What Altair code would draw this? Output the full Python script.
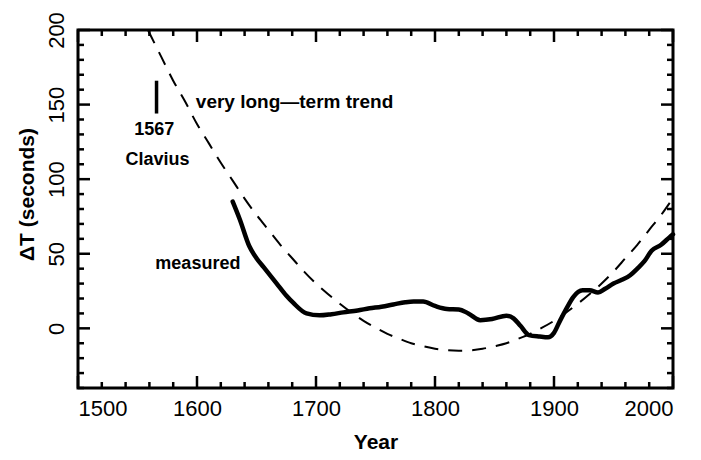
import altair as alt
import pandas as pd

# measured Delta T (solid)
meas_year = [1630, 1636, 1644, 1650, 1656, 1667, 1675, 1681, 1692, 1703, 1713, 1723, 1735,
             1745, 1755, 1765, 1775, 1782, 1790, 1800, 1810, 1820, 1828, 1838, 1848,
             1860, 1866, 1872, 1879, 1888, 1895, 1900, 1905, 1911, 1916, 1924, 1930,
             1937, 1943, 1950, 1957, 1964, 1970, 1976, 1982, 1990, 1997, 2000]
meas_val = [85, 73, 55, 47, 41, 30, 22, 17, 10, 8.7, 9.5, 10.7, 12,
            13.4, 14.5, 16, 17.5, 18, 18, 15, 13, 12.7, 10, 5.5, 6.2,
            8.5, 6.7, 1.5, -4.5, -5.5, -6, -3, 5, 14, 20.8, 25.5, 25.5,
            24, 26.5, 30, 32.5, 35.6, 40, 45, 52, 56, 61, 63]

# very long-term trend (dashed)
trend_year = [1550, 1560, 1570, 1580, 1590, 1600, 1610, 1620, 1630, 1640, 1650, 1660,
              1670, 1680, 1690, 1700, 1710, 1720, 1730, 1740, 1750, 1760, 1770, 1780,
              1790, 1800, 1810, 1820, 1830, 1840, 1850, 1860, 1870, 1880, 1890, 1900,
              1910, 1920, 1930, 1940, 1950, 1960, 1970, 1980, 1990, 1998]
trend_val = [214, 198, 182, 166, 152, 137, 124, 111, 99, 87, 76, 66,
             56, 47, 38, 30, 23, 16.5, 10.5, 5, 0.4, -3.7, -7, -10,
             -12, -13.7, -14.7, -15, -14.7, -13.7, -12, -10, -7, -3.7, 0.4, 5,
             10.5, 16.5, 23, 30, 38, 47, 56, 66, 76, 85]

# Clavius 1567 marker
clavius_year = [1566]
clavius_lo = [144]
clavius_hi = [166]

# annotations
ann_text = ["very long\u2014term trend", "1567", "Clavius", "measured"]
ann_year = [1599, 1564, 1540, 1565]
ann_val = [152, 133, 113, 43]
ann_size = [19, 18, 18, 18]
ann_align = ["left", "center", "left", "left"]

x_major = [1500, 1600, 1700, 1800, 1900, 2000]
x_minor = [y for y in range(1500, 2001, 20) if y % 100 != 0]
y_major = [0, 50, 100, 150, 200]
y_minor = [v for v in range(-40, 201, 10) if v % 50 != 0]

W, H = 595, 358
FONT = "Liberation Sans"

xs = alt.Scale(domain=[1500, 2000], nice=False, zero=False)
ys = alt.Scale(domain=[-40, 200], nice=False, zero=False)

meas = pd.DataFrame({"year": meas_year, "dt": meas_val})
trend = pd.DataFrame({"year": trend_year, "dt": trend_val})

base_x = alt.X("year:Q", scale=xs, title="Year",
               axis=alt.Axis(values=x_major, format="d", domain=False, ticks=False, grid=False,
                             labelFont=FONT, labelFontSize=22, labelColor="black",
                             labelPadding=10, titleFont=FONT, titleFontSize=21,
                             titleFontWeight="bold", titleColor="black", titlePadding=12))
base_y = alt.Y("dt:Q", scale=ys, title="\u0394T (seconds)",
               axis=alt.Axis(values=y_major, domain=False, ticks=False, grid=False,
                             labelFont=FONT, labelFontSize=22, labelColor="black",
                             labelAngle=-90, labelAlign="center", labelBaseline="bottom",
                             labelPadding=10, titleFont=FONT, titleFontSize=21,
                             titleFontWeight="bold", titleColor="black",
                             titleX=-51, titleY=164, titleBaseline="middle",
                             titleAlign="center", titleAngle=-90))

trend_line = alt.Chart(trend).mark_line(color="black", strokeWidth=2, strokeDash=[14, 10],
                                        clip=True, interpolate="monotone").encode(x=base_x, y=base_y)
meas_line = alt.Chart(meas).mark_line(color="black", strokeWidth=4.5,
                                      interpolate="monotone", strokeCap="round").encode(
    x=alt.X("year:Q", scale=xs), y=alt.Y("dt:Q", scale=ys))

clav = pd.DataFrame({"year": clavius_year, "lo": clavius_lo, "hi": clavius_hi})
clav_rule = alt.Chart(clav).mark_rule(color="black", strokeWidth=3.5).encode(
    x=alt.X("year:Q", scale=xs), y=alt.Y("lo:Q", scale=ys), y2="hi:Q")

ann = pd.DataFrame({"t": ann_text, "year": ann_year, "dt": ann_val, "al": ann_align, "fs": ann_size})
ann_layers = []
for al in ["left", "center"]:
    ann_layers.append(
        alt.Chart(ann[ann["al"] == al]).mark_text(font=FONT, fontWeight="bold",
                                                  align=al, baseline="middle", color="black").encode(
            x=alt.X("year:Q", scale=xs), y=alt.Y("dt:Q", scale=ys), text="t:N",
            size=alt.Size("fs:Q", scale=None)))

# plot frame
frame = alt.Chart(pd.DataFrame({"k": [0]})).mark_rect(fill=None, stroke="black", strokeWidth=3).encode(
    x=alt.value(0), x2=alt.value(W), y=alt.value(0), y2=alt.value(H))

# inward ticks on all four sides
def xticks(vals, L):
    d = pd.DataFrame({"year": vals})
    b = alt.Chart(d).mark_rule(color="black", strokeWidth=2.5).encode(
        x=alt.X("year:Q", scale=xs), y=alt.value(H), y2=alt.value(H - L))
    t = alt.Chart(d).mark_rule(color="black", strokeWidth=2.5).encode(
        x=alt.X("year:Q", scale=xs), y=alt.value(0), y2=alt.value(L))
    return [b, t]

def yticks(vals, L):
    d = pd.DataFrame({"dt": vals})
    l = alt.Chart(d).mark_rule(color="black", strokeWidth=2.5).encode(
        y=alt.Y("dt:Q", scale=ys), x=alt.value(0), x2=alt.value(L))
    r = alt.Chart(d).mark_rule(color="black", strokeWidth=2.5).encode(
        y=alt.Y("dt:Q", scale=ys), x=alt.value(W), x2=alt.value(W - L))
    return [l, r]

tick_layers = xticks(x_major, 12) + xticks(x_minor, 6) + yticks(y_major, 12) + yticks(y_minor, 6)

chart = alt.layer(trend_line, meas_line, clav_rule, *ann_layers, frame, *tick_layers).properties(
    width=W, height=H,
    autosize=alt.AutoSizeParams(type="none"),
    padding={"left": 70, "top": 22, "right": 20, "bottom": 64},
).configure_view(stroke=None).configure(background="white")

chart.save("out.html", embed_options={"renderer": "svg", "actions": False})
